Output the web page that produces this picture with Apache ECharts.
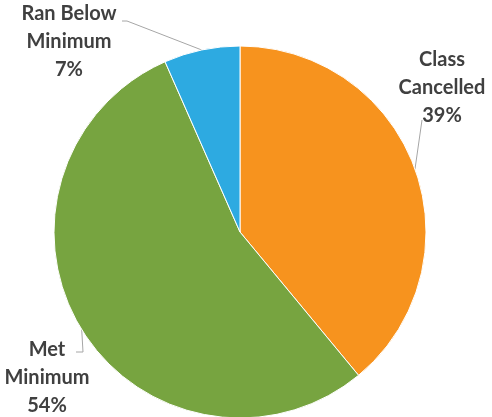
<!DOCTYPE html>
<html>
<head>
<meta charset="utf-8">
<script src="https://cdn.jsdelivr.net/npm/echarts@6/dist/echarts.min.js"></script>
<style>
html, body { margin: 0; padding: 0; background: #fff; }
#chart { width: 492px; height: 417px; }
</style>
</head>
<body>
<div id="chart"></div>
<script>
// categories and values (slice angles)
var categories = ['Class\nCancelled', 'Met\nMinimum', 'Ran Below\nMinimum'];
var values = [39.0, 54.4, 6.6];
var colors = ['#F7931E', '#77A440', '#2DAAE1'];

// where each label block sits (centre) and the bend of its leader line
var labelPos = [[442, 88], [47, 378], [69, 42]];
var lineBend = [[422, 120], [83, 352], [127, 21]];
var lineEnd = [[422, 120], [76, 352], [122, 21]];

var chart = echarts.init(document.getElementById('chart'));

chart.setOption({
    animation: false,
    color: colors,
    series: [{
        type: 'pie',
        center: [240, 232],
        radius: 186,
        startAngle: 90,
        clockwise: true,
        percentPrecision: 0,
        data: categories.map(function (c, i) { return {name: c, value: values[i]}; }),
        itemStyle: {borderColor: '#ffffff', borderWidth: 1},
        label: {
            show: true,
            formatter: '{b}\n{d}%',
            fontFamily: 'Lato',
            fontWeight: 'bold',
            fontSize: 20,
            lineHeight: 28,
            color: '#404040',
            align: 'center',
            overflow: 'none'
        },
        labelLine: {
            show: true,
            length: 10,
            length2: 10,
            lineStyle: {color: '#A6A6A6', width: 1}
        },
        labelLayout: function (params) {
            var i = params.dataIndex;
            var start = params.labelLinePoints ? params.labelLinePoints[0] : lineBend[i];
            return {
                x: labelPos[i][0],
                y: labelPos[i][1],
                align: 'center',
                verticalAlign: 'middle',
                width: 120,
                labelLinePoints: [start, lineBend[i], lineEnd[i]]
            };
        }
    }]
});
</script>
</body>
</html>
